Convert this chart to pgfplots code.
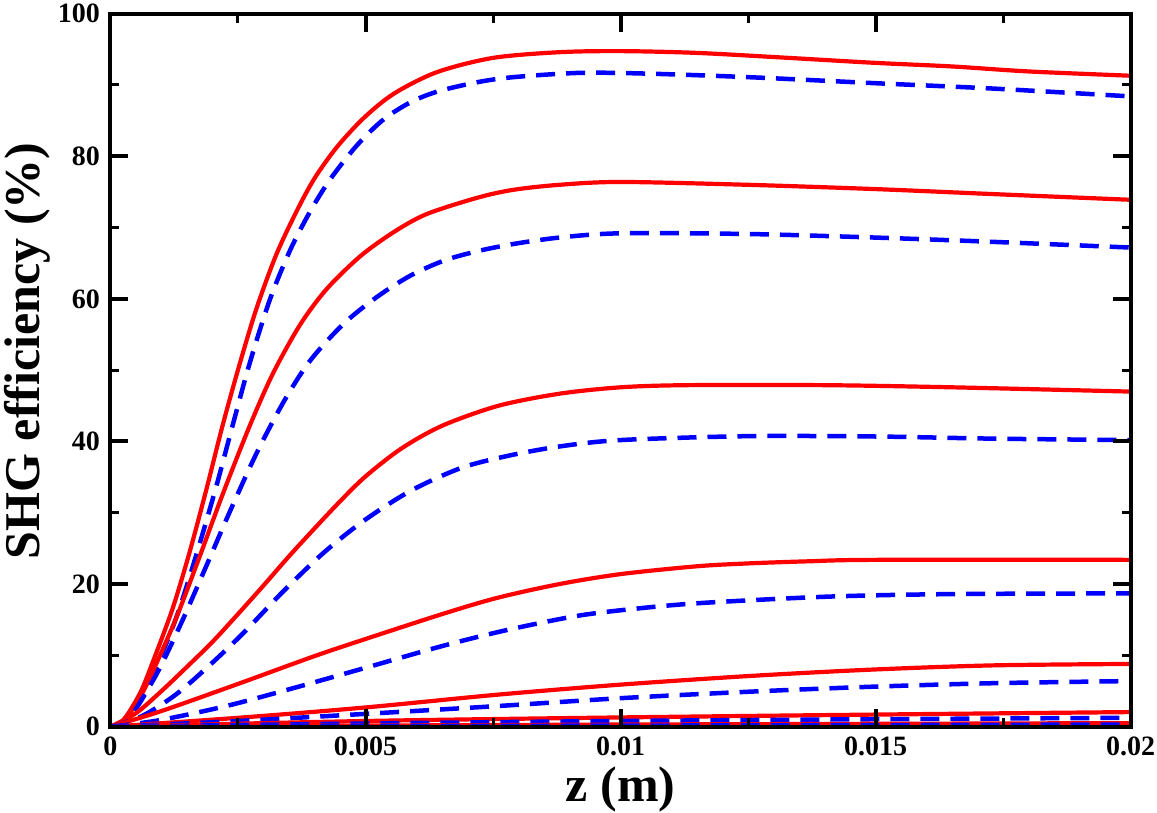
\documentclass[border=0pt]{standalone}
\usepackage{fontspec}
\setmainfont{Liberation Serif}
\usepackage{pgfplots}
\pgfplotsset{compat=1.18}
\begin{document}
\begin{tikzpicture}
\begin{axis}[name=ax,
 scale only axis, width=1020pt, height=713pt,
 xmin=0, xmax=0.02, ymin=0, ymax=100,
 xtick={0,0.005,0.01,0.015,0.02},
 xticklabels={0,0.005,0.01,0.015,0.02},
 scaled x ticks=false,
 ytick={0,20,40,60,80,100},
 minor x tick num=1, minor y tick num=1,
 tick align=inside,
 major tick length=18pt, minor tick length=9pt,
 every major tick/.append style={line width=4pt, black},
 every minor tick/.append style={line width=3pt, black},
 axis line style={line width=4pt},
 axis on top,
 ticklabel style={font=\bfseries\fontsize{28}{28}\selectfont, inner sep=0pt},
 /pgf/number format/assume math mode=true,
 yticklabel style={xshift=-10.5pt},
 xticklabel style={yshift=-10pt},
 xlabel={z (m)}, ylabel={SHG efficiency (\%)},
 label style={font=\bfseries\fontsize{50}{50}\selectfont, inner sep=0pt},
 xlabel style={at={([yshift=-75pt]axis description cs:0.5,0)}, anchor=base},
 ylabel style={at={([xshift=-70.5pt]axis description cs:0,0.527)}, anchor=base},
 red line/.style={red, line width=4.2pt, smooth},
 blue line/.style={blue, line width=4.5pt, dash pattern=on 19pt off 11pt, smooth},
]
% pair 1
\addplot[red line] coordinates {(0,0) (0.0002,0.6) (0.00036,2) (0.0006,5) (0.00082,8.9) (0.00121,16.4) (0.00154,24.2) (0.00187,33) (0.0022,42.3) (0.00253,50.8) (0.00286,58.6) (0.00325,66.2) (0.00365,72.3) (0.004,76.9) (0.00444,81.3) (0.00497,85.4) (0.00556,88.8) (0.0064,91.8) (0.0075,93.8) (0.0088,94.6) (0.01,94.75) (0.0115,94.5) (0.0133,93.8) (0.015,93.1) (0.0165,92.6) (0.018,91.9) (0.02,91.3)};
\addplot[blue line] coordinates {(0,0) (0.0002,0.4) (0.00036,1.4) (0.0006,3.8) (0.00082,7) (0.00128,15.1) (0.00167,23.8) (0.00207,33.6) (0.0024,42.4) (0.00273,51) (0.00312,59.8) (0.00352,66.8) (0.00391,72.2) (0.00431,76.8) (0.00484,81.6) (0.00536,85.2) (0.00589,87.6) (0.00642,89.1) (0.0072,90.4) (0.0079,91.1) (0.0092,91.7) (0.0105,91.6) (0.0125,91.1) (0.015,90.25) (0.0173,89.5) (0.02,88.4)};
% pair 2
\addplot[red line] coordinates {(0,0) (0.0002,0.5) (0.00036,1.7) (0.0006,4.4) (0.00082,7.6) (0.00128,15.1) (0.00174,23.7) (0.0022,32.6) (0.00273,42.2) (0.00319,49.6) (0.00372,56.4) (0.00424,61.4) (0.0049,66) (0.00556,69.4) (0.0062,71.9) (0.0072,74.2) (0.0079,75.3) (0.0088,76.0) (0.01,76.4) (0.0125,76.0) (0.015,75.4) (0.0173,74.7) (0.02,73.9)};
\addplot[blue line] coordinates {(0,0) (0.00025,0.6) (0.00049,2.4) (0.00095,8) (0.00141,14.9) (0.00187,22.4) (0.00233,30) (0.00286,38.3) (0.00339,45.5) (0.00391,51.3) (0.00457,56.5) (0.00523,60.3) (0.00589,63.3) (0.00655,65.4) (0.0072,66.7) (0.0079,67.7) (0.0088,68.6) (0.01,69.2) (0.0125,69.1) (0.015,68.6) (0.0173,68) (0.02,67.2)};
% pair 3
\addplot[red line] coordinates {(0,0) (0.0005,1.9) (0.001,5.0) (0.0015,8.4) (0.002,11.9) (0.0025,15.8) (0.003,19.8) (0.0035,23.9) (0.004,27.8) (0.0045,31.6) (0.005,35.1) (0.0057,39.0) (0.0065,42.2) (0.0076,45.0) (0.0088,46.7) (0.01,47.6) (0.0113,47.9) (0.014,47.9) (0.0165,47.6) (0.02,47)};
\addplot[blue line] coordinates {(0,0) (0.00062,1.5) (0.00128,4.5) (0.00194,8.6) (0.0026,13.1) (0.00339,19.0) (0.00418,24.4) (0.00497,28.9) (0.00589,33.1) (0.00688,36.3) (0.0078,38.0) (0.0088,39.3) (0.01,40.2) (0.0125,40.75) (0.015,40.7) (0.0173,40.4) (0.02,40.2)};
% pair 4
\addplot[red line] coordinates {(0,0) (0.001,2.2) (0.0025,6.0) (0.004,9.9) (0.005,12.3) (0.00655,15.9) (0.0076,18.1) (0.0088,20.0) (0.01,21.4) (0.0115,22.5) (0.0125,22.9) (0.0137,23.2) (0.015,23.4) (0.02,23.4)};
\addplot[blue line] coordinates {(0,0) (0.00095,0.9) (0.00227,2.9) (0.00358,5.4) (0.00497,8.2) (0.00655,11.4) (0.0078,13.6) (0.0092,15.6) (0.0105,16.7) (0.0117,17.4) (0.0141,18.25) (0.0165,18.6) (0.02,18.7)};
% pair 5
\addplot[red line] coordinates {(0,0) (0.0026,1.3) (0.005,2.7) (0.0076,4.5) (0.01,5.9) (0.0125,7.1) (0.0149,8.0) (0.0173,8.6) (0.02,8.8)};
\addplot[blue line] coordinates {(0,0) (0.0025,0.8) (0.005,1.8) (0.0076,2.9) (0.01,4.0) (0.0125,4.9) (0.0149,5.6) (0.0173,6.1) (0.02,6.4)};
% pair 6
\addplot[red line] coordinates {(0,0) (0.005,0.8) (0.01,1.3) (0.015,1.7) (0.02,2.05)};
\addplot[blue line] coordinates {(0,0) (0.005,0.45) (0.01,0.8) (0.015,1.05) (0.02,1.25)};
% pair 7
\addplot[red line] coordinates {(0,0) (0.01,0.3) (0.02,0.5)};
\addplot[blue line] coordinates {(0,0) (0.01,0.15) (0.02,0.3)};
\end{axis}
\path ([shift={(-110.5pt,-86pt)}]ax.south west) rectangle ([shift={(26.5pt,13.7pt)}]ax.north east);
\end{tikzpicture}
\end{document}
